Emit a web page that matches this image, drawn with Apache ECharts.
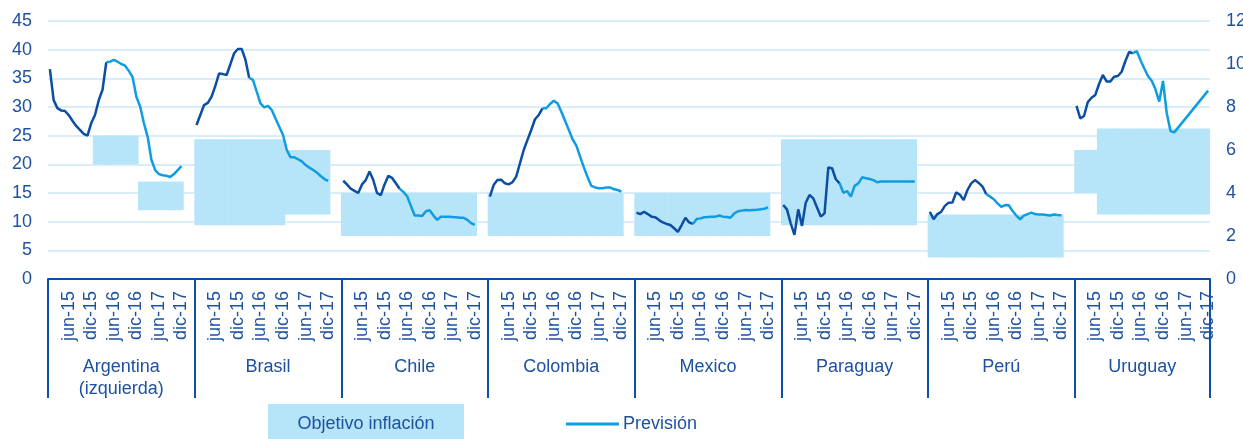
<!DOCTYPE html>
<html><head><meta charset="utf-8">
<script src="https://cdn.jsdelivr.net/npm/echarts@6/dist/echarts.min.js"></script>
<style>html,body{margin:0;padding:0;background:#fff}#c{width:1243px;height:439px}</style>
</head><body><div id="c"></div>
<script>
// ---------- DATA ----------
const countries = ['Argentina', 'Brasil', 'Chile', 'Colombia', 'Mexico', 'Paraguay', 'Perú', 'Uruguay'];
const countryLabels = ['Argentina\n(izquierda)', 'Brasil', 'Chile', 'Colombia', 'Mexico', 'Paraguay', 'Perú', 'Uruguay'];
const monthNames = ['ene', 'feb', 'mar', 'abr', 'may', 'jun', 'jul', 'ago', 'sep', 'oct', 'nov', 'dic'];
const years = ['15', '16', '17'];
const tickMonths = ['jun', 'dic'];
const blankCatsBetweenGroups = 3;

// Inflation, % y/y, ene-15 .. dic-17 (Argentina on left axis, rest on right axis)
const argentina = [36.6, 31.2, 29.8, 29.4, 29.3, 28.6, 27.6, 26.7, 26.0, 25.3, 25.0, 27.2, 28.6, 31.2, 33.0, 37.8, 37.9, 38.2, 37.9, 37.5, 37.2, 36.3, 35.2, 31.8, 30.1, 27.2, 24.8, 20.8, 19.0, 18.3, 18.1, 18.0, 17.8, 18.3, 19.0, 19.7];
const brasil = [7.16, 7.63, 8.09, 8.19, 8.48, 8.98, 9.56, 9.53, 9.49, 9.99, 10.5, 10.7, 10.7, 10.2, 9.36, 9.26, 8.71, 8.17, 7.98, 8.05, 7.86, 7.47, 7.08, 6.70, 6.0, 5.66, 5.66, 5.57, 5.47, 5.30, 5.18, 5.07, 4.95, 4.79, 4.65, 4.56];
const chile = [4.57, 4.40, 4.2, 4.1, 4.0, 4.4, 4.6, 5.0, 4.6, 4.0, 3.9, 4.4, 4.8, 4.7, 4.45, 4.2, 4.05, 3.85, 3.4, 2.95, 2.95, 2.93, 3.15, 3.2, 2.95, 2.75, 2.9, 2.9, 2.9, 2.88, 2.87, 2.85, 2.85, 2.75, 2.6, 2.52];
const colombia = [3.83, 4.37, 4.60, 4.62, 4.45, 4.4, 4.5, 4.76, 5.38, 6.0, 6.47, 6.93, 7.43, 7.63, 7.94, 7.94, 8.14, 8.29, 8.17, 7.78, 7.36, 6.93, 6.5, 6.2, 5.69, 5.19, 4.73, 4.33, 4.26, 4.22, 4.22, 4.26, 4.26, 4.17, 4.14, 4.06];
const mexico = [3.09, 3.02, 3.13, 3.02, 2.90, 2.87, 2.74, 2.63, 2.56, 2.51, 2.36, 2.19, 2.51, 2.85, 2.63, 2.56, 2.79, 2.82, 2.87, 2.88, 2.90, 2.90, 2.95, 2.90, 2.88, 2.85, 3.05, 3.15, 3.18, 3.21, 3.2, 3.21, 3.22, 3.24, 3.27, 3.33];
const paraguay = [3.44, 3.24, 2.59, 2.05, 3.24, 2.47, 3.55, 3.91, 3.75, 3.33, 2.90, 3.05, 5.19, 5.15, 4.64, 4.45, 4.01, 4.09, 3.83, 4.33, 4.45, 4.73, 4.69, 4.65, 4.6, 4.5, 4.53, 4.53, 4.53, 4.53, 4.53, 4.53, 4.53, 4.53, 4.53, 4.53];
const peru = [3.12, 2.78, 3.02, 3.12, 3.40, 3.55, 3.56, 4.03, 3.92, 3.67, 4.14, 4.45, 4.6, 4.47, 4.30, 3.95, 3.83, 3.71, 3.52, 3.36, 3.44, 3.43, 3.16, 2.95, 2.78, 2.95, 3.02, 3.09, 3.02, 3.0, 3.0, 2.98, 2.95, 3.0, 2.98, 2.97];
const uruguay = [8.05, 7.47, 7.58, 8.23, 8.43, 8.56, 9.07, 9.49, 9.19, 9.19, 9.41, 9.44, 9.64, 10.14, 10.56, 10.50, 10.60, 10.19, 9.8, 9.44, 9.22, 8.82, 8.25, 9.21, 7.71, 6.88, 6.82, null, null, null, null, null, null, null, null, 8.76];

// last month of observed data (forecast starts there)
const lastActual = ['abr-16', 'mar-16', 'abr-16', 'mar-16', 'abr-16', 'abr-16', 'abr-16', 'abr-16'];

// inflation target ranges: [from, to, low, high]
const targetArgentina = [['ene-16', 'dic-16', 20, 25], ['ene-17', 'dic-17', 12, 17]];
const targetBrasil = [['ene-15', 'dic-16', 2.5, 6.5], ['ene-17', 'dic-17', 3, 6]];
const targetChile = [['ene-15', 'dic-17', 2, 4]];
const targetColombia = [['ene-15', 'dic-17', 2, 4]];
const targetMexico = [['ene-15', 'dic-17', 2, 4]];
const targetParaguay = [['ene-15', 'dic-17', 2.5, 6.5]];
const targetPeru = [['ene-15', 'dic-17', 1, 3]];
const targetUruguay = [['ene-15', 'jun-15', 4, 6], ['jul-15', 'dic-17', 3, 7]];

const leftTicks = { min: 0, max: 45, interval: 5 };
const rightTicks = { min: 0, max: 12, interval: 2 };
const legendNames = ['Objetivo inflación', 'Previsión'];

// ---------- BUILD ----------
const values = [argentina, brasil, chile, colombia, mexico, paraguay, peru, uruguay];
const targets = [targetArgentina, targetBrasil, targetChile, targetColombia, targetMexico, targetParaguay, targetPeru, targetUruguay];
const months = [];
years.forEach(y => monthNames.forEach(m => months.push(m + '-' + y)));

const cats = [];
const groupStart = [];
countries.forEach((c, g) => {
  groupStart.push(cats.length);
  months.forEach(m => cats.push(c + '|' + m));
  if (g < countries.length - 1) for (let k = 0; k < blankCatsBetweenGroups; k++) cats.push(c + '|_' + k);
});
const total = cats.length;
const groupEnd = groupStart.map((s, g) => g < countries.length - 1 ? groupStart[g + 1] : total);
const groupCenters = groupStart.map((s, g) => (s + groupEnd[g]) / 2);

const TXT = '#1d52a3';
const DARK = '#0b4ea2';
const LIGHT = '#0f9de2';
const BAND = '#b6e4f8';
const AXIS = '#0d4fa8';
const FONT = '"Liberation Sans", Arial, sans-serif';

const empty = () => new Array(total).fill(null);
const lowL = empty(), spanL = empty(), lowR = empty(), spanR = empty();
targets.forEach((list, g) => {
  list.forEach(([from, to, lo, hi]) => {
    const a = months.indexOf(from), b = months.indexOf(to);
    for (let i = a; i <= b; i++) {
      const idx = groupStart[g] + i;
      if (g === 0) { lowL[idx] = lo; spanL[idx] = hi - lo; }
      else { lowR[idx] = lo; spanR[idx] = hi - lo; }
    }
  });
});

const bandStyle = { color: BAND, borderWidth: 0 };
const BW = '116%';
const series = [
  { type: 'bar', name: 'bandBaseR', xAxisIndex: 0, yAxisIndex: 1, stack: 'bR', data: lowR, barWidth: BW, itemStyle: { color: 'rgba(0,0,0,0)' }, silent: true, z: 1 },
  { type: 'bar', name: legendNames[0], xAxisIndex: 0, yAxisIndex: 1, stack: 'bR', data: spanR, barWidth: BW, itemStyle: bandStyle, silent: true, z: 1 },
  { type: 'bar', name: 'bandBaseL', xAxisIndex: 2, yAxisIndex: 0, stack: 'bL', data: lowL, barWidth: BW, itemStyle: { color: 'rgba(0,0,0,0)' }, silent: true, z: 1 },
  { type: 'bar', name: legendNames[0] + ' L', xAxisIndex: 2, yAxisIndex: 0, stack: 'bL', data: spanL, barWidth: BW, itemStyle: bandStyle, silent: true, z: 1 }
];

countries.forEach((c, g) => {
  const vals = values[g];
  const s = months.indexOf(lastActual[g]);
  const act = empty(), fc = empty();
  vals.forEach((v, i) => {
    if (v == null) return;
    if (i <= s) act[groupStart[g] + i] = v;
    if (i >= s) fc[groupStart[g] + i] = v;
  });
  const yi = g === 0 ? 0 : 1;
  series.push({ type: 'line', name: c, xAxisIndex: 0, yAxisIndex: yi, data: act, showSymbol: false, symbol: 'none', connectNulls: true, lineStyle: { color: DARK, width: 2.5 }, z: 3, silent: true });
  series.push({ type: 'line', name: c + ' ' + legendNames[1], xAxisIndex: 0, yAxisIndex: yi, data: fc, showSymbol: false, symbol: 'none', connectNulls: true, lineStyle: { color: LIGHT, width: 2.5 }, z: 3, silent: true });
});

const chart = echarts.init(document.getElementById('c'), null, { renderer: 'canvas' });
chart.setOption({
  animation: false,
  backgroundColor: '#fff',
  textStyle: { fontFamily: FONT },
  grid: { left: 48, right: 33, top: 21, bottom: 160, containLabel: false, outerBoundsMode: 'none' },
  xAxis: [
    {
      type: 'category', data: cats, position: 'bottom', boundaryGap: true,
      axisLine: { show: true, onZero: false, lineStyle: { color: AXIS, width: 2 } },
      axisTick: { show: false },
      splitLine: { show: false },
      axisLabel: {
        rotate: 90, margin: 12, fontSize: 18, color: TXT, fontFamily: FONT,
        interval: (i, v) => { const m = v.split('|')[1]; return tickMonths.indexOf(m.slice(0, 3)) >= 0; },
        formatter: v => v.split('|')[1]
      }
    },
    {
      type: 'value', min: 0, max: total, position: 'bottom',
      axisLine: { show: false, onZero: false },
      splitLine: { show: false },
      axisTick: { show: true, customValues: groupStart.concat([total]), length: 119, lineStyle: { color: AXIS, width: 2 } },
      axisLabel: {
        show: true, customValues: groupCenters, margin: 77, fontSize: 18, lineHeight: 22, color: TXT, fontFamily: FONT,
        formatter: v => { const k = groupCenters.findIndex(x => Math.abs(x - v) < 0.01); return k >= 0 ? countryLabels[k] : ''; }
      }
    },
    { type: 'category', data: cats, show: false, boundaryGap: true }
  ],
  yAxis: [
    {
      type: 'value', position: 'left', min: leftTicks.min, max: leftTicks.max, interval: leftTicks.interval,
      axisLine: { show: false }, axisTick: { show: false },
      splitLine: { show: true, lineStyle: { color: '#cde9f8', width: 1.5 } },
      axisLabel: { margin: 16, fontSize: 18, color: TXT, fontFamily: FONT }
    },
    {
      type: 'value', position: 'right', min: rightTicks.min, max: rightTicks.max, interval: rightTicks.interval,
      axisLine: { show: false }, axisTick: { show: false }, splitLine: { show: false },
      axisLabel: { margin: 16, fontSize: 18, color: TXT, fontFamily: FONT }
    }
  ],
  series: series,
  graphic: [
    { type: 'rect', left: 268, top: 404, shape: { width: 196, height: 35 }, style: { fill: BAND }, silent: true },
    { type: 'text', x: 366, y: 424, style: { text: legendNames[0], fill: TXT, font: '18px ' + FONT, textAlign: 'center', textVerticalAlign: 'middle' }, silent: true },
    { type: 'line', shape: { x1: 566, y1: 424, x2: 619, y2: 424 }, style: { stroke: LIGHT, lineWidth: 3 }, silent: true },
    { type: 'text', x: 623, y: 424, style: { text: legendNames[1], fill: TXT, font: '18px ' + FONT, textAlign: 'left', textVerticalAlign: 'middle' }, silent: true }
  ]
});
</script>
</body></html>
